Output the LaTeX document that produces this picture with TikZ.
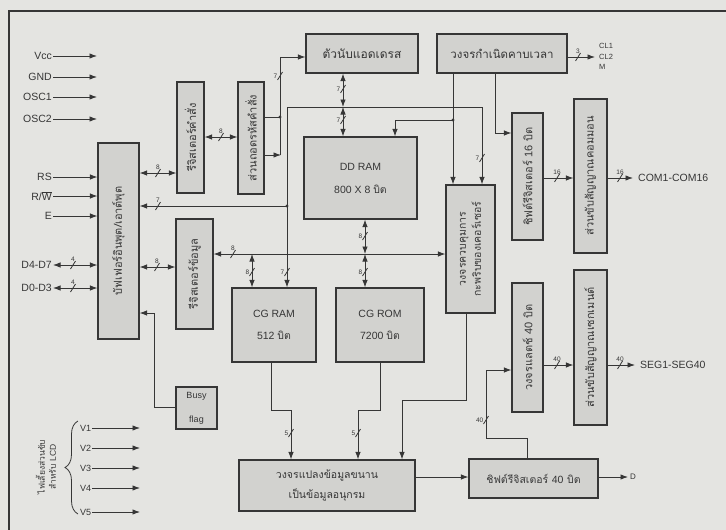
\documentclass[tikz,border=0pt]{standalone}
\usepackage{fontspec}
\setmainfont{Liberation Sans}
\newfontfamily\lat{Liberation Sans}
\newfontfamily\thai[Script=Thai]{Loma}
\usetikzlibrary{arrows.meta,decorations.pathreplacing}
\definecolor{bg}{HTML}{E4E4E1}
\definecolor{boxfill}{HTML}{D2D2CF}
\definecolor{ink}{HTML}{363636}
\tikzset{
 blk/.style={draw=ink, fill=boxfill, line width=1.1pt, inner sep=0pt, align=center, text=ink, font=\thai\fontsize{11}{13}\selectfont},
 rtext/.style={rotate=90, align=center, inner sep=0pt, text=ink, font=\thai\fontsize{11}{13}\selectfont},
 wire/.style={draw=ink, line width=0.9pt},
 arr/.style={wire, -{Latex[length=7.5pt,width=5.5pt]}},
 darr/.style={wire, {Latex[length=7.5pt,width=5.5pt]}-{Latex[length=7.5pt,width=5.5pt]}},
 sig/.style={font=\fontsize{10.5}{12}\selectfont, text=ink, inner sep=1pt},
 busnum/.style={font=\fontsize{6.5}{7}\selectfont, text=ink, inner sep=0.5pt},
 jdot/.style={circle, fill=ink, inner sep=0pt, minimum size=3.4pt},
}
\newcommand\mkbox[7]{\node[blk, minimum width={#4-#2}, minimum height={#5-#3}, #6] (#1) at ({(#2+#4)/2},{(#3+#5)/2}) {#7};}
\newcommand\mkrbox[7]{\node[blk, minimum width={#4-#2}, minimum height={#5-#3}] (#1) at ({(#2+#4)/2},{(#3+#5)/2}) {};
 \node[rtext, #6] (#1t) at (#1.center) {#7};}
\newcommand\bmark[5]{\draw[wire, line width=0.8pt] (#2-2.5,#3+4) -- (#2+2.5,#3-4); \node[busnum, #5] (#1) at (#2,#3) {#4};}
\begin{document}
\begin{tikzpicture}[x=1pt,y=-1pt]
\fill[bg] (0,0) rectangle (726,530);
\useasboundingbox (0,0) rectangle (726,530);
\draw[ink, line width=1.3pt] (9,530) -- (9,11) -- (726,11);

% blocks
\mkrbox{iobuf}{98}{143}{139}{339}{}{บัฟเฟอร์อินพุต/เอาต์พุต}
\mkrbox{ir}{177}{82}{204}{193}{}{รีจิสเตอร์คำสั่ง}
\mkrbox{dec}{238}{82}{264}{194}{}{ส่วนถอดรหัสคำสั่ง}
\mkbox{ac}{306}{34}{418}{73}{font=\thai\fontsize{12}{13}\selectfont}{ตัวนับแอดเดรส}
\mkbox{tg}{437}{34}{567}{73}{font=\thai\fontsize{11.5}{13}\selectfont}{วงจรกำเนิดคาบเวลา}
\mkbox{ddram}{304}{137}{417}{219}{font=\lat\fontsize{10.5}{23}\selectfont}{DD RAM\\800 X 8 {\thai บิต}}
\mkrbox{dr}{176}{219}{213}{329}{}{รีจิสเตอร์ข้อมูล}
\mkbox{cgram}{232}{288}{316}{362}{font=\lat\fontsize{10.5}{22}\selectfont}{CG RAM\\512 {\thai บิต}}
\mkbox{cgrom}{336}{288}{424}{362}{font=\lat\fontsize{10.5}{22}\selectfont}{CG ROM\\7200 {\thai บิต}}
\mkrbox{disp}{446}{185}{495}{313}{font=\thai\fontsize{10.5}{15}\selectfont}{วงจรควบคุมการ\\กะพริบของเคอร์เซอร์}
\mkrbox{comsr}{512}{113}{543}{240}{}{ชิฟต์รีจิสเตอร์ {\lat 16} บิต}
\mkrbox{comdrv}{574}{99}{607}{253}{}{ส่วนขับสัญญาณคอมมอน}
\mkrbox{latch}{512}{283}{543}{412}{}{วงจรแลตช์ {\lat 40} บิต}
\mkrbox{segdrv}{574}{270}{607}{425}{}{ส่วนขับสัญญาณเซกเมนต์}
\mkbox{busy}{176}{387}{217}{429}{font=\lat\fontsize{9}{24}\selectfont}{Busy\\flag}
\mkbox{ps}{239}{460}{415}{511}{font=\thai\fontsize{10.5}{20}\selectfont}{วงจรแปลงข้อมูลขนาน\\เป็นข้อมูลอนุกรม}
\mkbox{sr40}{469}{459}{598}{498}{font=\thai\fontsize{10.5}{13}\selectfont}{ชิฟต์รีจิสเตอร์ {\lat 40} บิต}

% left inputs
\node[sig, anchor=east] (vcc) at (53,56) {Vcc};
\node[sig, anchor=east] (gnd) at (53,77) {GND};
\node[sig, anchor=east] (osc1) at (53,97) {OSC1};
\node[sig, anchor=east] (osc2) at (53,119) {OSC2};
\coordinate (vccE) at (97,56);
\coordinate (gndE) at (97,77);
\coordinate (osc1E) at (97,97);
\coordinate (osc2E) at (97,119);
\draw[arr] (vcc.east) -- (vccE);
\draw[arr] (gnd.east) -- (gndE);
\draw[arr] (osc1.east) -- (osc1E);
\draw[arr] (osc2.east) -- (osc2E);
\node[sig, anchor=east] (rs) at (53,177) {RS};
\node[sig, anchor=east] (rw) at (53,196) {R/$\overline{\hbox{W}}$};
\node[sig, anchor=east] (en) at (53,216) {E};
\draw[arr] (rs.east) -- (iobuf.west |- rs.east);
\draw[arr] (rw.east) -- (iobuf.west |- rw.east);
\draw[arr] (en.east) -- (iobuf.west |- en.east);
\node[sig, anchor=east] (d47) at (53,265) {D4-D7};
\node[sig, anchor=east] (d03) at (53,288) {D0-D3};
\draw[darr] (d47.east) -- (iobuf.west |- d47.east);
\draw[darr] (d03.east) -- (iobuf.west |- d03.east);
\bmark{m1}{73}{265}{4}{anchor=south, yshift=3pt}
\bmark{m2}{73}{288}{4}{anchor=south, yshift=3pt}

% io buffer links
\draw[darr] (iobuf.east |- 0,173) -- (ir.west |- 0,173);
\bmark{m3}{158}{173}{8}{anchor=south, yshift=3pt}
\draw[darr] (ir.east |- 0,137) -- (dec.west |- 0,137);
\bmark{m4}{221}{137}{8}{anchor=south, yshift=3pt}
\draw[darr] (iobuf.east |- 0,267) -- (dr.west |- 0,267);
\bmark{m5}{157}{267}{8}{anchor=south, yshift=3pt}

% decoder to address counter
\coordinate (j1) at (280,117);
\coordinate (c1) at (280,155);
\coordinate (c2) at (280,57);
\draw[wire] (dec.east |- j1) -- (j1);
\draw[arr] (dec.east |- c1) -- ([xshift=1pt]c1);
\draw[arr] (c1) -- (c2) -- (ac.west |- c2);
\node[jdot] (j1d) at (j1) {};
\bmark{m6}{280}{76}{7}{anchor=east, xshift=-2pt}

% address counter to DD RAM
\coordinate (j2) at (343,107);
\draw[darr] (ac.south -| j2) -- (j2);
\draw[darr] (j2) -- (ddram.north -| j2);
\bmark{m7}{343}{89}{7}{anchor=east, xshift=-2pt}
\bmark{m8}{343}{120}{7}{anchor=east, xshift=-2pt}

% address lines
\coordinate (c3) at (287,107);
\coordinate (c4) at (482,107);
\draw[arr] (c3) -- (c4) -- (disp.north -| c4);
\draw[arr] (c3) -- (cgram.north -| c3);
\coordinate (j3) at (287,206);
\draw[arr] (j3) -- (iobuf.east |- j3);
\node[jdot] (j3d) at (j3) {};
\bmark{m9}{158}{206}{7}{anchor=south, yshift=3pt}
\bmark{m10}{287}{272}{7}{anchor=east, xshift=-2pt}
\bmark{m11}{482}{158}{7}{anchor=east, xshift=-2pt}

% timing generator
\coordinate (j4) at (453,120);
\draw[arr] (tg.south -| j4) -- (disp.north -| j4);
\coordinate (c6) at (395,120);
\draw[arr] (j4) -- (c6) -- (ddram.north -| c6);
\node[jdot] (j4d) at (j4) {};
\coordinate (c7) at (495,133);
\draw[arr] (tg.south -| c7) -- (c7) -- (comsr.west |- c7);
\coordinate (tgo) at (595,57);
\draw[arr] (tg.east |- tgo) -- (tgo);
\bmark{m12}{578}{57}{3}{anchor=south, yshift=3pt}
\node[sig, anchor=west, font=\fontsize{7.5}{8}\selectfont] (cl1) at (598,46) {CL1};
\node[sig, anchor=west, font=\fontsize{7.5}{8}\selectfont] (cl2) at (598,56.5) {CL2};
\node[sig, anchor=west, font=\fontsize{7.5}{8}\selectfont] (mm) at (598,67) {M};

% data bus
\coordinate (b1) at (252,254);
\coordinate (b2) at (365,254);
\draw[darr] (dr.east |- b1) -- (disp.west |- b1);
\draw[darr] (b1) -- (cgram.north -| b1);
\draw[darr] (ddram.south -| b2) -- (b2);
\draw[darr] (b2) -- (cgrom.north -| b2);
\bmark{m13}{233}{254}{8}{anchor=south, yshift=3pt}
\bmark{m14}{252}{272}{8}{anchor=east, xshift=-2pt}
\bmark{m15}{365}{236}{8}{anchor=east, xshift=-2pt}
\bmark{m16}{365}{272}{8}{anchor=east, xshift=-2pt}

% common outputs
\coordinate (como) at (633,178);
\draw[arr] (comsr.east |- como) -- (comdrv.west |- como);
\draw[arr] (comdrv.east |- como) -- (como);
\bmark{m17}{557}{178}{16}{anchor=south, yshift=3pt}
\bmark{m18}{620}{178}{16}{anchor=south, yshift=3pt}
\node[sig, anchor=west] (comlbl) at (637,178) {COM1-COM16};

% segment outputs
\coordinate (sego) at (635,365);
\draw[arr] (latch.east |- sego) -- (segdrv.west |- sego);
\draw[arr] (segdrv.east |- sego) -- (sego);
\bmark{m19}{557}{365}{40}{anchor=south, yshift=3pt}
\bmark{m20}{620}{365}{40}{anchor=south, yshift=3pt}
\node[sig, anchor=west] (seglbl) at (639,365) {SEG1-SEG40};

% latch input
\coordinate (c8) at (527,438);
\coordinate (c9) at (486,438);
\coordinate (c10) at (486,370);
\draw[arr] (sr40.north -| c8) -- (c8) -- (c9) -- (c10) -- (latch.west |- c10);
\bmark{m21}{486}{420}{40}{anchor=east, xshift=-2pt}

% parallel to serial inputs
\coordinate (c11) at (271,410);
\coordinate (c12) at (291,410);
\draw[arr] (cgram.south -| c11) -- (c11) -- (c12) -- (ps.north -| c12);
\coordinate (c13) at (380,410);
\coordinate (c14) at (358,410);
\draw[arr] (cgrom.south -| c13) -- (c13) -- (c14) -- (ps.north -| c14);
\coordinate (c15) at (466,400);
\coordinate (c16) at (402,400);
\draw[arr] (disp.south -| c15) -- (c15) -- (c16) -- (ps.north -| c16);
\bmark{m22}{291}{433}{5}{anchor=east, xshift=-2pt}
\bmark{m23}{358}{433}{5}{anchor=east, xshift=-2pt}

% serial path
\coordinate (sp) at (0,477);
\draw[arr] (ps.east |- sp) -- (sr40.west |- sp);
\coordinate (dout) at (628,477);
\draw[arr] (sr40.east |- dout) -- (dout);
\node[sig, anchor=west, font=\fontsize{8}{9}\selectfont] (dlbl) at (629,477) {D};

% busy flag
\coordinate (c17) at (154,407);
\coordinate (c18) at (154,313);
\draw[arr] (busy.west |- c17) -- (c17) -- (c18) -- (iobuf.east |- c18);

% LCD supply
\foreach \n/\yy in {1/428,2/448,3/468,4/488,5/512}{
  \node[sig, anchor=west, font=\fontsize{9}{10}\selectfont] (v\n) at (79,\yy) {V\n};
  \coordinate (v\n E) at (140,\yy);
  \draw[arr] (v\n.east) -- (v\n E);
}
\draw[ink, line width=0.8pt, decorate, decoration={brace, amplitude=13pt}] (78,514) -- (78,421);
\node[rtext, font=\thai\fontsize{8.5}{11}\selectfont] (lcdlbl) at (46,467) {ไฟเลี้ยงส่วนขับ\\สำหรับ {\lat LCD}};
\end{tikzpicture}
\end{document}
